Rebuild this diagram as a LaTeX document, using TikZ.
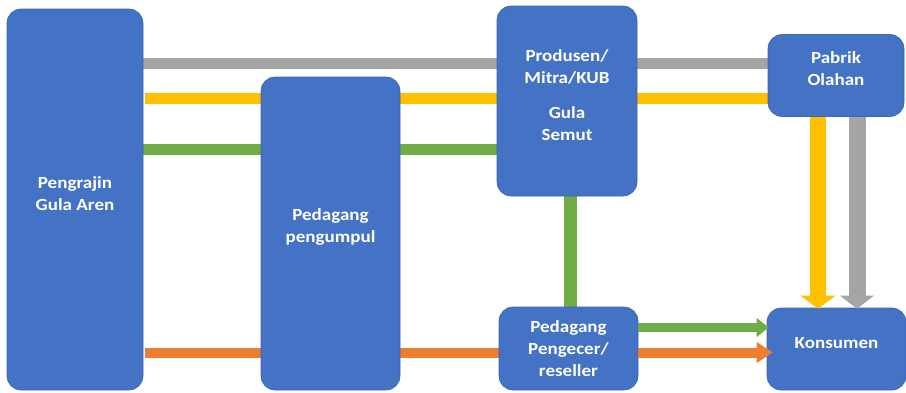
\documentclass[tikz,border=0pt]{standalone}
\usepackage{fontspec}
\newfontfamily\boxfont{Carlito}[FakeStretch=1.12]
\usetikzlibrary{arrows.meta}
\definecolor{boxblue}{HTML}{4472C4}
\definecolor{boxedge}{HTML}{3B66B3}
\definecolor{fgray}{HTML}{A5A5A5}
\definecolor{fyellow}{HTML}{FFC000}
\definecolor{fgreen}{HTML}{70AD47}
\definecolor{forange}{HTML}{ED7D31}
\pgfdeclarelayer{background}
\pgfsetlayers{background,main}
\tikzset{
  box/.style={draw=boxedge, line width=0.6pt, fill=boxblue, rounded corners=14pt, inner sep=0pt},
  boxtext/.style={text=white, align=center, font=\boxfont\bfseries\fontsize{17}{22}\selectfont, inner sep=0pt},
  flow/.style={line width=#1, line cap=butt},
}
\begin{document}
\begin{tikzpicture}[x=1pt,y=-1pt]
\useasboundingbox (0,0) rectangle (906,392);

\node[box, minimum width=136pt, minimum height=381pt,
  label={[boxtext,yshift=6pt]center:Pengrajin\\Gula Aren}] (peng) at (75,199.5) {};
\node[box, minimum width=139pt, minimum height=313pt,
  label={[boxtext,yshift=7pt]center:Pedagang\\pengumpul}] (pul) at (330.5,233.5) {};
\node[box, minimum width=140pt, minimum height=190pt,
  label={[boxtext,yshift=6pt]center:Produsen/\\Mitra/KUB\\[13pt]Gula\\Semut}] (prod) at (567,101) {};
\node[box, minimum width=136pt, minimum height=82pt,
  label={[boxtext,yshift=6.5pt]center:Pabrik\\Olahan}] (pab) at (836,75.5) {};
\node[box, minimum width=139pt, minimum height=83pt,
  label={[boxtext]center:Pedagang\\Pengecer/\\reseller}] (ecer) at (568.5,348.5) {};
\node[box, minimum width=139pt, minimum height=82pt,
  label={[boxtext,yshift=6pt]center:Konsumen}] (kon) at (836.5,349) {};

\begin{pgfonlayer}{background}
  \fill[white] (0,0) rectangle (906,392);
  \draw[flow=11pt, fgray]   (peng.east |- 0,63.5) -- (pab.west |- 0,63.5);
  \draw[flow=11pt, fyellow] ([xshift=2pt]peng.east |- 0,98) -- (pab.west |- 0,98);
  \draw[flow=11pt, fgreen]  (peng.east |- 0,149.5) -- (prod.west |- 0,149.5);
  \draw[flow=10pt, forange] ([xshift=2pt]peng.east |- 0,352.5) -- (ecer.west |- 0,352.5);
  \draw[flow=13pt, fgreen]  (prod.south -| 570,0) -- (ecer.north -| 570,0);
\end{pgfonlayer}

\draw[flow=16pt, fyellow, -{Triangle[length=13pt,width=35pt,line width=0pt]}]
  (pab.south -| 818,0) -- ([yshift=-1pt]kon.north -| 818,0);
\draw[flow=17pt, fgray, -{Triangle[length=13pt,width=34pt,line width=0pt]}]
  (pab.south -| 857,0) -- ([yshift=-1pt]kon.north -| 857,0);
\draw[flow=9pt, fgreen, -{Triangle[length=12pt,width=19pt,line width=0pt]}]
  (ecer.east |- 0,327.5) -- ([xshift=2pt]kon.west |- 0,327.5);
\draw[flow=10pt, forange, -{Triangle[length=16pt,width=21pt,line width=0pt]}]
  (ecer.east |- 0,352.5) -- ([xshift=6pt]kon.west |- 0,352.5);
\end{tikzpicture}
\end{document}
